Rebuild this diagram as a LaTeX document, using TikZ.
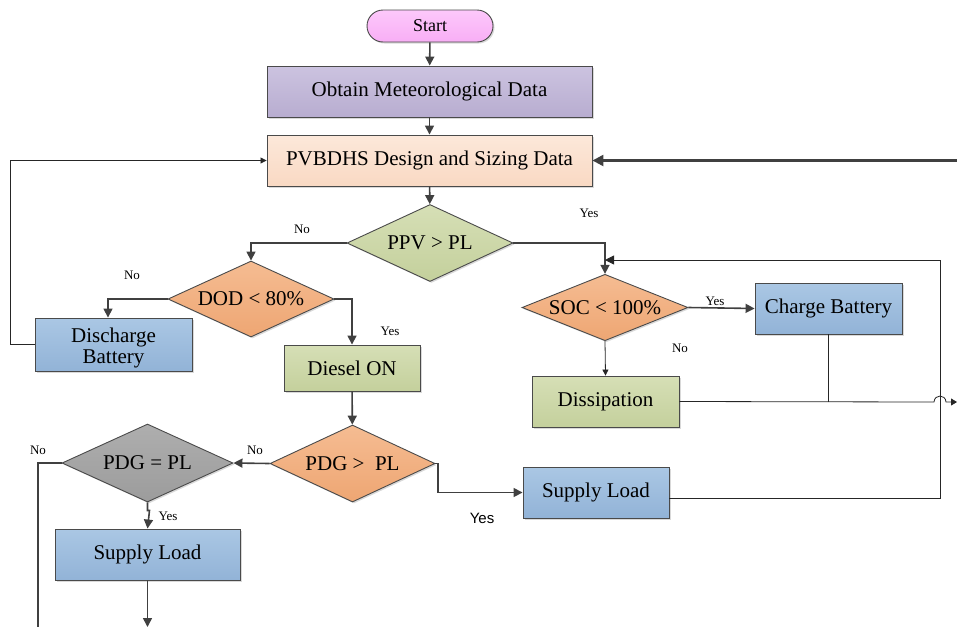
\documentclass[tikz,border=0pt]{standalone}
\usepackage{fontspec}
\setmainfont{Liberation Serif}
\newfontfamily\labsans{Liberation Sans}
\usetikzlibrary{shapes.geometric,arrows.meta,shadows,calc}

\definecolor{bordc}{HTML}{4A4A4A}
\definecolor{linec}{HTML}{404040}
\definecolor{pinkT}{HTML}{FDC8FB}
\definecolor{pinkB}{HTML}{F8AEF5}
\definecolor{lavT}{HTML}{CCC3E0}
\definecolor{lavB}{HTML}{B8ADD0}
\definecolor{peachT}{HTML}{FCE8DA}
\definecolor{peachB}{HTML}{F9D9C3}
\definecolor{greenT}{HTML}{D6DFB6}
\definecolor{greenB}{HTML}{C4D09C}
\definecolor{orangeT}{HTML}{F5BC92}
\definecolor{orangeB}{HTML}{EEA673}
\definecolor{blueT}{HTML}{AAC7E4}
\definecolor{blueB}{HTML}{92B3D7}
\definecolor{grayT}{HTML}{AEAEAE}
\definecolor{grayB}{HTML}{9C9C9C}

\begin{document}
\begin{tikzpicture}[x=1pt,y=-1pt,
  shape base/.style={draw=bordc, line width=0.9pt, inner sep=0pt, align=center,
    font=\fontsize{21}{21}\selectfont,
    drop shadow={shadow xshift=1.5pt,shadow yshift=-1.5pt,opacity=0.3}},
  box/.style={shape base, rectangle, minimum height=51pt},
  dia/.style={shape base, diamond, shape aspect=2.15},
  greenfill/.style={top color=greenT, bottom color=greenB},
  orangefill/.style={top color=orangeT, bottom color=orangeB},
  bluefill/.style={top color=blueT, bottom color=blueB},
  conn/.style={draw=linec, line width=1.6pt},
  thinconn/.style={draw=black!85, line width=0.8pt},
  arr/.style={-{Triangle[length=9pt,width=9pt]}},
  smallarr/.style={-{Triangle[length=6pt,width=6pt]}},
  lbl/.style={font=\fontsize{13}{14}\selectfont, inner sep=0pt},
]
\useasboundingbox (0,0) rectangle (957,627);

% nodes
\node[shape base, rectangle, rounded corners=16pt, minimum width=126pt, minimum height=32pt,
      top color=pinkT, bottom color=pinkB, font=\fontsize{18}{18}\selectfont] (start) at (430,26) {Start};
\node[box, minimum width=325pt, top color=lavT, bottom color=lavB] (obt) at (429.5,91.5) {Obtain Meteorological Data};
\node[box, minimum width=325pt, top color=peachT, bottom color=peachB] (pvb) at (429.5,160.5) {PVBDHS Design and Sizing Data};
\node[dia, greenfill, minimum width=166pt, minimum height=77pt] (ppv) at (430,243) {PPV > PL};
\node[dia, orangefill, minimum width=166pt, minimum height=76pt] (dod) at (251,299) {DOD < 80\%};
\node[box, bluefill, minimum width=157pt, minimum height=53pt] (dis) at (113.5,344.5) {\rule{0pt}{21pt}Discharge\\Battery};
\node[box, greenfill, minimum width=136pt, minimum height=46pt] (diesel) at (352,368) {Diesel ON};
\node[dia, orangefill, minimum width=165pt, minimum height=77pt] (pdgg) at (352.5,463.5) {PDG >\ \ PL};
\node[dia, top color=grayT, bottom color=grayB, minimum width=171pt, minimum height=78pt] (pdge) at (147.5,463) {PDG = PL};
\node[box, bluefill, minimum width=185pt] (sla) at (147.5,554.5) {Supply Load};
\node[box, bluefill, minimum width=146pt] (slb) at (596,492.5) {Supply Load};
\node[dia, orangefill, minimum width=166pt, minimum height=65pt] (soc) at (605,307.5) {SOC < 100\%};
\node[box, bluefill, minimum width=147pt] (cb) at (828.5,308.5) {Charge Battery};
\node[box, greenfill, minimum width=147pt] (diss) at (605.5,401.5) {Dissipation};

% free ends
\coordinate (rightin) at (957,160.5);
\coordinate (bottomA) at (147.5,627);
\coordinate (bottomB) at (38,627);
\coordinate (rightout) at (957,402);
\coordinate (loopc) at (940,498);
\coordinate (loopt) at (940,260);
\coordinate (socin) at (605,260);

% connectors
\draw[conn, arr] (start) -- (obt);
\draw[conn, arr] (obt) -- (pvb);
\draw[conn, arr] (pvb) -- (ppv);
\draw[conn, arr] (ppv.west) -| (dod.north);
\draw[conn, arr] (ppv.east) -| (soc.north);
\draw[conn, arr] (dod.west) -| ([xshift=-5.5pt]dis.north);
\draw[conn, arr] (dod.east) -| (diesel.north);
\draw[thinconn, smallarr] (dis.west) -- (10,344.5) -- (10,160.5) -- (pvb.west);
\draw[conn, arr] (diesel) -- (pdgg);
\draw[conn, arr] (pdgg.west) -- (pdge.east);
\draw[conn] (pdge.west) -| (bottomB);
\draw[conn, arr] (pdge.south) -- ++(0,8) -- ++(2,0) -- (sla.north);
\draw[conn, arr] (sla.south) -- (bottomA);
\draw[conn, arr] (pdgg.east) -- (438,463.5) |- (slb.west);
\draw[thinconn] ([yshift=-5.5pt]slb.east) -- (loopc) -- (loopt);
\draw[thinconn, arr] (loopt) -- (socin);
\draw[conn, arr] (soc.east) -- (cb.west);
\draw[thinconn, smallarr] (soc.south) -- (diss.north);
\draw[thinconn, -{Triangle[length=6pt,width=7pt]}] (diss.east) -- (934,402) .. controls (934.5,394) and (945.5,394) .. (946,402) -- (rightout);
\draw[thinconn] (cb.south) -- (828.5,402);
\draw[draw=linec, line width=2.4pt, -{Triangle[length=11pt,width=11pt]}] (rightin) -- (pvb.east);

% labels
\node[lbl] (l1) at (302,229) {No};
\node[lbl] (l2) at (589,213) {Yes};
\node[lbl] (l3) at (132,275) {No};
\node[lbl] (l4) at (390,331) {Yes};
\node[lbl] (l5) at (715,301) {Yes};
\node[lbl] (l6) at (680,348) {No};
\node[lbl] (l7) at (255,450) {No};
\node[lbl] (l8) at (38,450) {No};
\node[lbl] (l9) at (168,516) {Yes};
\node[inner sep=0pt, font=\labsans\fontsize{15}{16}\selectfont] (l10) at (482,518) {Yes};
\end{tikzpicture}
\end{document}
